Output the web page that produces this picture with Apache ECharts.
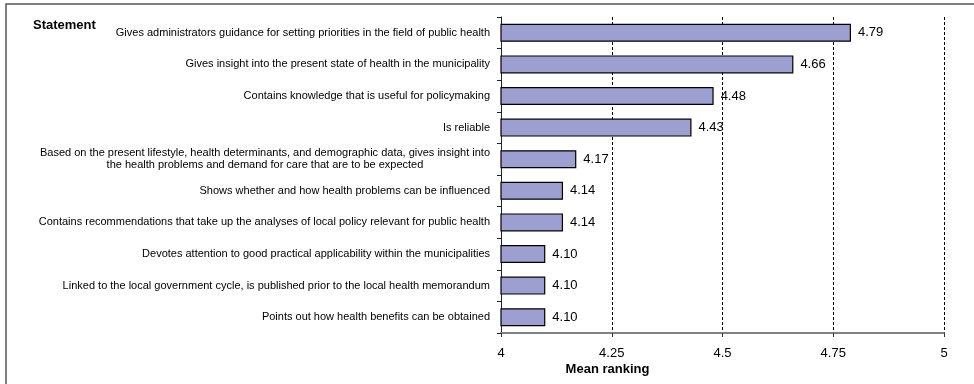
<!DOCTYPE html>
<html>
<head>
<meta charset="utf-8">
<script src="https://cdn.jsdelivr.net/npm/echarts@6/dist/echarts.min.js"></script>
<style>
  html, body { margin: 0; padding: 0; background: #fff; }
  #chart { width: 974px; height: 384px; }
</style>
</head>
<body>
<div id="chart"></div>
<script>
// Statements rated by respondents, top to bottom
const statements = [
  'Gives administrators guidance for setting priorities in the field of public health',
  'Gives insight into the present state of health in the municipality',
  'Contains knowledge that is useful for policymaking',
  'Is reliable',
  'Based on the present lifestyle, health determinants, and demographic data, gives insight into\nthe health problems and demand for care that are to be expected',
  'Shows whether and how health problems can be influenced',
  'Contains recommendations that take up the analyses of local policy relevant for public health',
  'Devotes attention to good practical applicability within the municipalities',
  'Linked to the local government cycle, is published prior to the local health memorandum',
  'Points out how health benefits can be obtained'
];

// Mean ranking per statement
const meanRanking = [4.79, 4.66, 4.48, 4.43, 4.17, 4.14, 4.14, 4.10, 4.10, 4.10];

// Value axis range and step
const axisMin = 4;
const axisMax = 5;
const axisStep = 0.25;

const FONT = '"Liberation Sans", Arial, sans-serif';

const chart = echarts.init(document.getElementById('chart'), null, { renderer: 'canvas' });

chart.setOption({
  animation: false,
  backgroundColor: '#fff',
  grid: { left: 501, right: 30, top: 17, bottom: 51, containLabel: false },
  xAxis: {
    type: 'value',
    min: axisMin,
    max: axisMax,
    interval: axisStep,
    axisLine: { show: true, lineStyle: { color: '#808080', width: 2 } },
    axisTick: { show: true, length: 4, lineStyle: { color: '#333', width: 1 } },
    axisLabel: { margin: 14, color: '#000', fontSize: 13, fontFamily: FONT },
    splitLine: { show: true, lineStyle: { color: '#000', width: 1, type: [3, 2] } }
  },
  yAxis: {
    type: 'category',
    inverse: true,
    data: statements,
    axisLine: { show: true, lineStyle: { color: '#222', width: 1 } },
    axisTick: { show: true, length: 4, lineStyle: { color: '#222', width: 1 } },
    axisLabel: {
      margin: 11,
      color: '#000',
      fontSize: 11,
      fontFamily: FONT,
      lineHeight: 12,
      formatter: function (v) {
        if (v.indexOf('\n') < 0) return v;
        return v.split('\n').map(function (s) { return '{c|' + s + '}'; }).join('\n');
      },
      rich: {
        c: { align: 'center', fontSize: 11, fontFamily: FONT, color: '#000', lineHeight: 12 }
      }
    },
    splitLine: { show: false }
  },
  series: [{
    type: 'bar',
    data: meanRanking,
    barWidth: 18,
    itemStyle: { color: '#9D9FD1', borderColor: '#000', borderWidth: 1.2 },
    label: {
      show: true,
      position: 'right',
      distance: 7,
      color: '#000',
      fontSize: 13,
      fontFamily: FONT,
      formatter: function (p) { return p.value.toFixed(2); }
    }
  }],
  graphic: [
    {
      type: 'rect',
      shape: { x: 6, y: 4, width: 1000, height: 420 },
      style: { fill: null, stroke: '#555', lineWidth: 1.5 },
      silent: true
    },
    {
      type: 'text',
      left: 33,
      top: 19,
      style: { text: 'Statement', fill: '#000', font: 'bold 13px ' + FONT }
    },
    {
      type: 'text',
      x: 607.5,
      y: 369,
      style: {
        text: 'Mean ranking', fill: '#000', font: 'bold 13px ' + FONT,
        align: 'center', verticalAlign: 'middle'
      }
    }
  ]
});
</script>
</body>
</html>
